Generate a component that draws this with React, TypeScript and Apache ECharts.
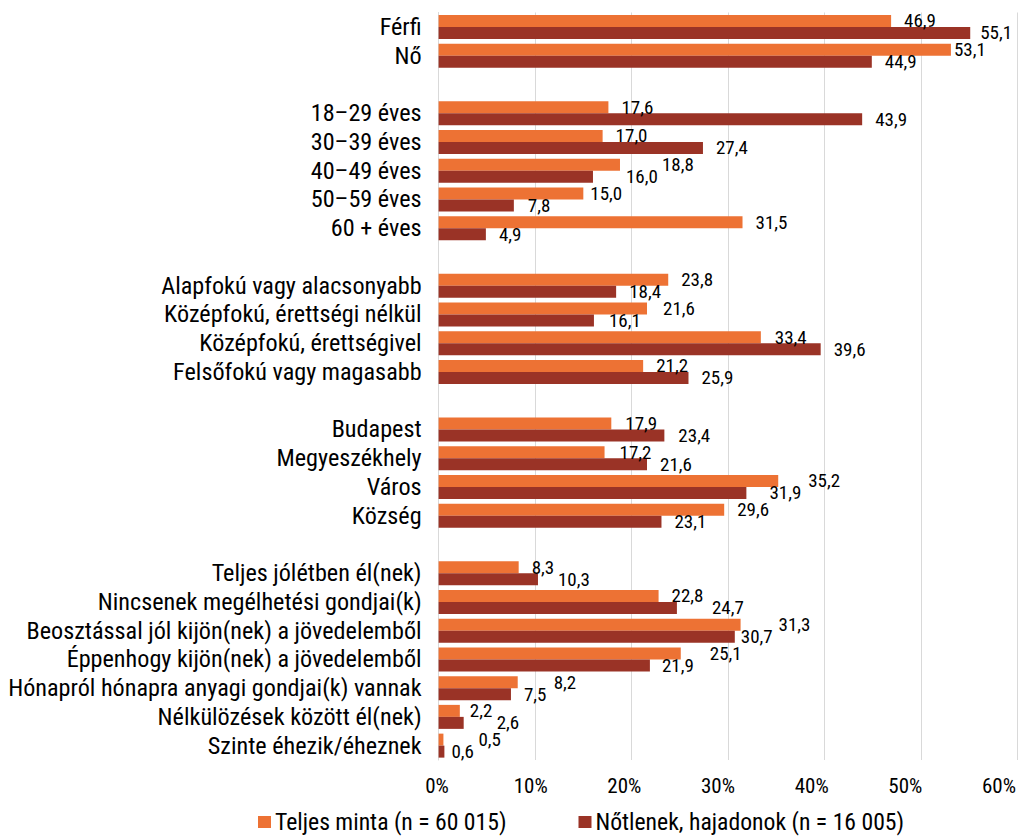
import React, { useEffect, useRef } from "react";
import * as echarts from "echarts";

const categories = [
  "Férfi", "Nő", "",
  "18–29 éves", "30–39 éves", "40–49 éves", "50–59 éves", "60 + éves", " ",
  "Alapfokú vagy alacsonyabb", "Középfokú, érettségi nélkül", "Középfokú, érettségivel", "Felsőfokú vagy magasabb", "  ",
  "Budapest", "Megyeszékhely", "Város", "Község", "   ",
  "Teljes jólétben él(nek)", "Nincsenek megélhetési gondjai(k)", "Beosztással jól kijön(nek) a jövedelemből",
  "Éppenhogy kijön(nek) a jövedelemből", "Hónapról hónapra anyagi gondjai(k) vannak", "Nélkülözések között él(nek)", "Szinte éhezik/éheznek",
];

const teljesMinta = [46.9, 53.1, null, 17.6, 17.0, 18.8, 15.0, 31.5, null, 23.8, 21.6, 33.4, 21.2, null, 17.9, 17.2, 35.2, 29.6, null, 8.3, 22.8, 31.3, 25.1, 8.2, 2.2, 0.5];
const notlenek = [55.1, 44.9, null, 43.9, 27.4, 16.0, 7.8, 4.9, null, 18.4, 16.1, 39.6, 25.9, null, 23.4, 21.6, 31.9, 23.1, null, 10.3, 24.7, 30.7, 21.9, 7.5, 2.6, 0.6];

const seriesNames = ["Teljes minta (n = 60 015)", "Nőtlenek, hajadonok (n = 16 005)"];

// manual label nudges as in the reference (px, horizontal)
const nudgeTeljes = [0, -10, 0, 0, 0, 29, -6, 0, 0, 0, 3, 1, 0, 0, 1, 2, 17, 0, 0, 0, 0, 25, 16, 23, -3, 22];
const nudgeNotlen = [-3, 0, 0, 0, 0, 20, 1, 0, 0, 0, 2, 0, 0, 0, 1, 0, 10, 0, 0, 7, 22, -7, -1, 0, 20, -6];

const FONT = "'Roboto Condensed', Roboto, sans-serif";
const fmt = (v: number) => v.toFixed(1).replace(".", ",");

export default function App() {
  const ref = useRef<HTMLDivElement>(null);
  useEffect(() => {
    const chart = echarts.init(ref.current!, null, { renderer: "svg" });
    const mk = (vals: (number | null)[], nudge: number[]) =>
      vals.map((v, i) =>
        v === null ? null : { value: v, label: { offset: [nudge[i], 0] } }
      );
    const labelStyle = {
      show: true,
      position: "right" as const,
      distance: 13,
      fontFamily: FONT,
      fontSize: 19,
      color: "#000",
      formatter: (p: any) => fmt(p.value),
    };
    chart.setOption({
      animation: false,
      textStyle: { fontFamily: FONT },
      grid: [
        { left: 438.6, right: 1.5, top: 12.5, height: 747.5 },
        { left: 437, right: 20, top: 12.5, height: 747.5 },
      ],
      legend: {
        left: 258,
        top: 810,
        padding: 0,
        itemWidth: 13,
        itemHeight: 12,
        itemGap: 72,
        icon: "rect",
        textStyle: { fontFamily: FONT, fontSize: 23.7, lineHeight: 24, color: "#000", padding: [0, 0, 0, -1] },
        data: seriesNames,
      },
      xAxis: [
        {
          type: "value",
          gridIndex: 0,
          min: 0,
          max: 60,
          interval: 10,
          axisLabel: { show: false },
          axisLine: { show: false },
          axisTick: { show: false },
          splitLine: { show: true, lineStyle: { color: "#D9D9D9", width: 1 } },
        },
        {
          type: "value",
          gridIndex: 1,
          min: 0,
          max: 60,
          interval: 10,
          axisLabel: {
            show: true,
            margin: 15,
            fontFamily: FONT,
            fontSize: 21,
            color: "#000",
            formatter: (v: number) => `${v}%`,
          },
          axisLine: { show: false },
          axisTick: { show: false },
          splitLine: { show: false },
        },
      ],
      yAxis: [
        {
          type: "category",
          gridIndex: 0,
          inverse: true,
          data: categories,
          axisLine: { show: true, lineStyle: { color: "#D9D9D9" } },
          axisTick: { show: false },
          axisLabel: { interval: 0, margin: 17, fontFamily: FONT, fontSize: 24.2, color: "#000" },
        },
        { type: "value", gridIndex: 1, show: false },
      ],
      series: [
        {
          name: seriesNames[0],
          type: "bar",
          xAxisIndex: 0,
          yAxisIndex: 0,
          barWidth: 12,
          barGap: "0%",
          itemStyle: { color: "#ED7234" },
          label: labelStyle,
          data: mk(teljesMinta, nudgeTeljes),
        },
        {
          name: seriesNames[1],
          type: "bar",
          xAxisIndex: 0,
          yAxisIndex: 0,
          barWidth: 12,
          barGap: "0%",
          itemStyle: { color: "#9A3326" },
          label: labelStyle,
          data: mk(notlenek, nudgeNotlen),
        },
      ],
    });
    return () => chart.dispose();
  }, []);
  return <div ref={ref} style={{ width: 1019, height: 836, position: "absolute", left: 0, top: 0 }} />;
}
